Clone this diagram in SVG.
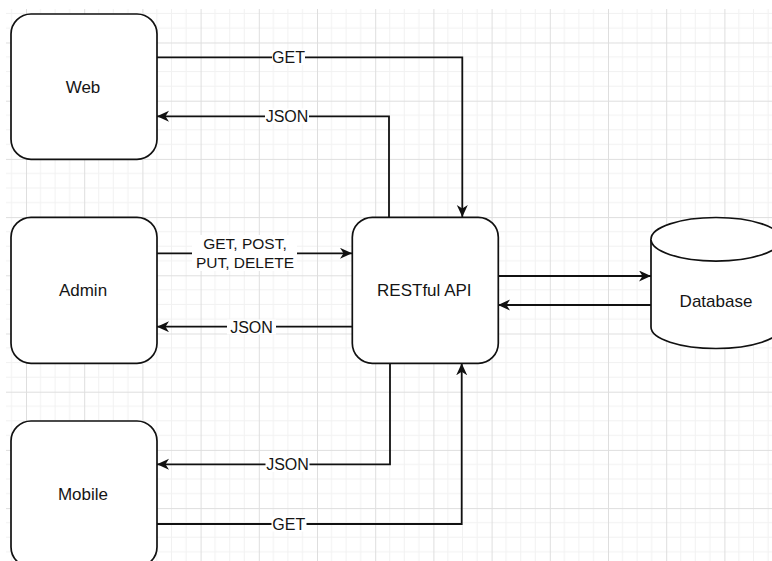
<svg xmlns="http://www.w3.org/2000/svg" width="772" height="561" viewBox="0 0 772 561">
<style>
.node{fill:#fff;stroke:#111;stroke-width:1.7}
.edge{fill:none;stroke:#111;stroke-width:1.8}
.lbl{font-family:"Liberation Sans",Arial,sans-serif;font-size:16px;fill:#151515;text-anchor:middle}
.ntx{font-family:"Liberation Sans",Arial,sans-serif;font-size:17px;fill:#151515;text-anchor:middle}
.lbg{fill:#fff}
.minor{stroke:#f1f1f1;stroke-width:1}
.major{stroke:#dedede;stroke-width:1}
</style>
<defs>
<pattern id="grid" patternUnits="userSpaceOnUse" x="26" y="42.5" width="58.2" height="58.2">
<line class="minor" x1="14.55" y1="0" x2="14.55" y2="58.2"/>
<line class="minor" x1="29.1" y1="0" x2="29.1" y2="58.2"/>
<line class="minor" x1="43.65" y1="0" x2="43.65" y2="58.2"/>
<line class="minor" x1="0" y1="14.55" x2="58.2" y2="14.55"/>
<line class="minor" x1="0" y1="29.1" x2="58.2" y2="29.1"/>
<line class="minor" x1="0" y1="43.65" x2="58.2" y2="43.65"/>
<line class="major" x1="0.5" y1="0" x2="0.5" y2="58.2"/>
<line class="major" x1="0" y1="0.5" x2="58.2" y2="0.5"/>
</pattern>
<marker id="arr" markerUnits="userSpaceOnUse" markerWidth="14" markerHeight="12" refX="12" refY="5.5" orient="auto">
<path d="M0,0 L12,5.5 L0,11 L3.5,5.5 Z" fill="#111"/>
</marker>
</defs>
<rect width="772" height="561" fill="#fff"/>
<rect x="6" y="9" width="766" height="552" fill="url(#grid)"/>

<g id="connectors">
<g id="e-web-get">
<path class="edge" d="M157,57.3 H462.3 V217" marker-end="url(#arr)"/>
<rect class="lbg" x="272" y="50" width="33" height="15"/>
<text class="lbl" x="288.5" y="63.3">GET</text>
</g>
<g id="e-web-json">
<path class="edge" d="M389,217 V116.3 H157" marker-end="url(#arr)"/>
<rect class="lbg" x="265" y="108.5" width="44" height="15"/>
<text class="lbl" x="287" y="122">JSON</text>
</g>
<g id="e-admin-req">
<path class="edge" d="M157,253.3 H352" marker-end="url(#arr)"/>
<rect class="lbg" x="192" y="235" width="105" height="36"/>
<text class="lbl" x="245" y="248.5" style="font-size:15.5px">GET, POST,</text>
<text class="lbl" x="245" y="268.3" style="font-size:15.5px">PUT, DELETE</text>
</g>
<g id="e-admin-json">
<path class="edge" d="M352,326.7 H157" marker-end="url(#arr)"/>
<rect class="lbg" x="227" y="319.5" width="49" height="15"/>
<text class="lbl" x="251.5" y="332.5">JSON</text>
</g>
<g id="e-api-db">
<path class="edge" d="M498,276 H651" marker-end="url(#arr)"/>
</g>
<g id="e-db-api">
<path class="edge" d="M651,305 H498" marker-end="url(#arr)"/>
</g>
<g id="e-mobile-json">
<path class="edge" d="M390,363 V464.3 H157" marker-end="url(#arr)"/>
<rect class="lbg" x="265.5" y="457" width="44" height="15"/>
<text class="lbl" x="287.5" y="469.5">JSON</text>
</g>
<g id="e-mobile-get">
<path class="edge" d="M157,524 H461.7 V363.3" marker-end="url(#arr)"/>
<rect class="lbg" x="271.5" y="516.5" width="35" height="15"/>
<text class="lbl" x="288.8" y="529.5">GET</text>
</g>
</g>

<g id="web">
<rect class="node" x="11" y="14" width="146" height="145.3" rx="20" ry="20"/>
<text class="ntx" x="83" y="92.7">Web</text>
</g>
<g id="admin">
<rect class="node" x="11" y="217.3" width="146" height="146" rx="20" ry="20"/>
<text class="ntx" x="83" y="296">Admin</text>
</g>
<g id="mobile">
<rect class="node" x="11" y="421" width="146" height="146" rx="20" ry="20"/>
<text class="ntx" x="83" y="500">Mobile</text>
</g>
<g id="api">
<rect class="node" x="352.3" y="217.3" width="146" height="146" rx="20" ry="20"/>
<text class="ntx" x="424.3" y="296">RESTful API</text>
</g>
<g id="database">
<path class="node" d="M651,239.3 A65,21.8 0 0 1 781,239.3 V327 A65,21.5 0 0 1 651,327 Z"/>
<path class="node" fill="none" d="M651,239.3 A65,21.8 0 0 0 781,239.3"/>
<text class="ntx" x="716" y="307.3">Database</text>
</g>
</svg>
